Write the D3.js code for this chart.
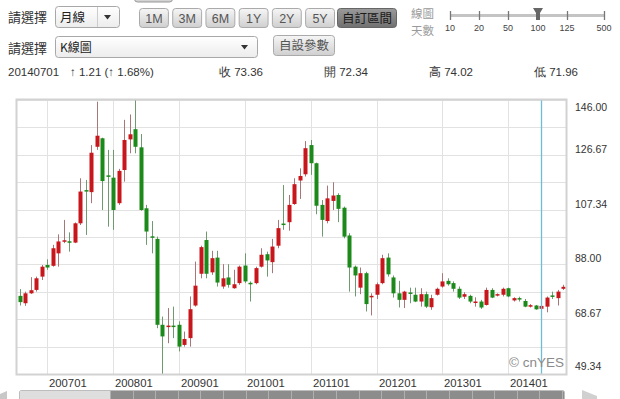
<!DOCTYPE html>
<html><head><meta charset="utf-8">
<script src="https://cdn.jsdelivr.net/npm/d3@7"></script>
<style>
html,body{margin:0;padding:0;background:#fff;overflow:hidden;}
svg{display:block;}
</style></head>
<body>
<svg id="c" width="620" height="399"></svg>
<script>
const months = ["200608","200609","200610","200611","200612",
"200701","200702","200703","200704","200705","200706","200707","200708","200709","200710","200711","200712",
"200801","200802","200803","200804","200805","200806","200807","200808","200809","200810","200811","200812",
"200901","200902","200903","200904","200905","200906","200907","200908","200909","200910","200911","200912",
"201001","201002","201003","201004","201005","201006","201007","201008","201009","201010","201011","201012",
"201101","201102","201103","201104","201105","201106","201107","201108","201109","201110","201111","201112",
"201201","201202","201203","201204","201205","201206","201207","201208","201209","201210","201211","201212",
"201301","201302","201303","201304","201305","201306","201307","201308","201309","201310","201311","201312",
"201401","201402","201403","201404","201405","201406","201407","201408","201409","201410","201411"];
const open  = [76.9,74.3,77.8,79.0,83.7,87.8,87.5,91.9,96.1,96.1,95.7,102.5,114.2,113.5,129.5,132.5,119.3,118.6,109.6,121.3,
132.1,135.7,129.3,107.8,97.8,97.0,66.7,65.9,66.4,66.7,59.6,62.0,73.5,84.7,96.6,85.2,90.4,80.2,83.4,79.6,
81.4,87.6,81.5,81.4,87.2,91.6,88.8,94.6,102.4,102.9,109.3,117.6,119.8,130.1,123.7,109.0,103.3,110.4,112.5,108.0,
98.2,87.2,79.8,84.9,76.4,77.3,81.4,90.4,83.4,77.8,75.5,78.1,77.3,74.9,77.5,72.9,77.3,80.2,82.2,81.4,
79.4,76.6,76.9,74.4,74.9,73.7,79.0,77.0,77.3,79.6,75.3,76.1,75.1,73.1,73.5,72.34,73.1,77.0,76.1,79.4];
const high  = [79.3,78.4,83.5,83.7,87.8,89.8,94.9,98.6,103.7,99.3,102.8,118.4,117.8,130.1,145.4,132.7,128.4,128.4,121.7,139.0,
140.9,146.0,134.0,109.0,103.3,97.8,69.6,72.6,73.1,67.9,64.3,76.7,89.0,94.6,99.6,92.8,92.8,88.1,88.1,86.1,
87.6,91.9,82.0,87.2,93.7,92.5,97.0,103.7,116.0,112.5,118.4,121.9,131.5,131.9,123.9,110.7,115.8,117.0,113.1,108.4,
99.0,87.6,86.9,85.4,77.8,81.6,91.4,91.9,84.1,82.2,78.7,79.8,79.8,79.6,78.4,77.3,79.8,84.9,83.1,82.0,
80.2,78.2,77.3,76.4,75.5,79.8,79.6,77.8,79.8,79.8,76.4,76.6,75.8,74.0,73.7,74.02,76.7,78.4,79.0,80.8];
const low   = [73.5,73.4,77.6,78.4,82.5,86.1,87.2,87.2,95.5,92.5,95.5,101.9,98.4,109.6,128.4,107.2,101.3,100.2,109.0,117.2,
127.2,127.2,106.9,94.9,91.9,65.5,49.34,60.2,62.0,57.3,59.0,59.0,73.1,83.1,83.1,84.3,80.2,79.4,79.8,79.4,
80.8,81.4,74.9,81.0,86.9,83.7,84.9,93.7,100.2,99.9,109.0,111.1,119.0,119.6,105.7,97.8,102.5,107.2,102.9,97.2,
78.4,76.7,77.5,71.4,70.0,75.8,81.0,83.7,76.3,72.8,72.6,74.3,74.7,73.1,72.6,72.0,77.0,79.8,80.5,78.4,
75.8,75.8,74.3,73.1,72.3,73.5,76.1,76.7,76.7,76.4,74.9,74.9,72.9,72.8,72.0,71.96,71.1,75.8,73.5,79.0];
const close = [74.7,77.8,78.9,83.1,87.2,86.9,93.7,96.1,96.4,95.7,102.5,113.7,113.7,127.4,133.4,117.4,119.0,107.2,121.0,131.9,
133.9,129.5,107.2,99.6,97.5,66.7,62.6,66.4,65.9,59.0,61.7,72.2,80.5,94.1,84.7,90.2,81.6,83.1,80.8,81.0,
87.2,82.0,81.0,86.7,91.4,89.4,94.3,100.8,101.9,109.0,116.3,119.2,129.0,123.7,108.7,103.7,111.3,112.3,107.6,97.8,
86.9,84.1,84.9,74.0,76.9,81.0,90.2,84.5,77.8,75.5,78.4,77.6,74.9,77.5,73.1,76.1,79.4,82.0,81.0,79.4,
76.3,77.5,74.9,74.9,72.8,79.0,76.3,77.5,79.4,76.7,76.1,75.6,73.1,73.6,72.15,73.36,76.3,76.6,78.4,80.1];
const yTicks = [146.00,126.67,107.34,88.00,68.67,49.34];
const xTickLabels = ["200701","200801","200901","201001","201101","201201","201301","201401"];
const hoverMonth = "201407";
const rangeButtons = ["1M","3M","6M","1Y","2Y","5Y"];
const dayLabels = ["10","20","50","100","125","500"];
const info = {date:"20140701", chg:"↑ 1.21 (↑ 1.68%)", c:"收 73.36", o:"開 72.34", h:"高 74.02", l:"低 71.96"};

const svg = d3.select("#c");
const CJK = "'Noto Sans CJK TC','Liberation Sans',sans-serif";
const LAT = "'Liberation Sans',Arial,sans-serif";

const defs = svg.append("defs");
function grad(id, a, b){
  const g = defs.append("linearGradient").attr("id",id).attr("x1",0).attr("y1",0).attr("x2",0).attr("y2",1);
  g.append("stop").attr("offset","0%").attr("stop-color",a);
  g.append("stop").attr("offset","100%").attr("stop-color",b);
}
grad("btn","#f6f6f6","#cfcfcf");
grad("btnDark","#9a9a9a","#707070");
grad("sel","#ffffff","#ececec");

// ---------- header ----------
const hdr = svg.append("g");
hdr.append("rect").attr("x",134.5).attr("y",-12).attr("width",38).attr("height",14).attr("rx",3)
  .attr("fill","url(#btn)").attr("stroke","#999");

function label(t,x,y,size,color,font,anchor){
  return hdr.append("text").attr("x",x).attr("y",y).attr("font-size",size).attr("fill",color||"#333")
    .attr("font-family",font||CJK).attr("text-anchor",anchor||"start").text(t);
}
label("請選擇",8,22,13,"#333");
hdr.append("rect").attr("x",55.5).attr("y",6.5).attr("width",64).attr("height",21).attr("rx",3)
  .attr("fill","url(#sel)").attr("stroke","#a8a8a8");
hdr.append("line").attr("x1",97.5).attr("x2",97.5).attr("y1",7).attr("y2",27).attr("stroke","#ccc");
label("月線",60,21.5,12.5,"#222");
hdr.append("path").attr("d","M104,15 L111,15 L107.5,19.5 Z").attr("fill","#333");

const bx = d3.scaleBand().domain(rangeButtons).range([139,334]).paddingInner(0.13);
rangeButtons.forEach(b=>{
  hdr.append("rect").attr("x",bx(b)+0.5).attr("y",8.5).attr("width",bx.bandwidth()).attr("height",19).attr("rx",3)
    .attr("fill","url(#btn)").attr("stroke","#aaa");
  label(b,bx(b)+bx.bandwidth()/2+0.5,22.5,12.5,"#555",LAT,"middle");
});
hdr.append("rect").attr("x",337.5).attr("y",8.5).attr("width",59).attr("height",19).attr("rx",3)
  .attr("fill","url(#btnDark)").attr("stroke","#666");
label("自訂區間",367,22.5,12.5,"#1a1a1a",CJK,"middle");

label("線圖",411,18,11.5,"#9a9a9a");
label("天數",411,35,11.5,"#9a9a9a");
const sxPos = [450,479,508,538,567,604];
hdr.append("line").attr("x1",450).attr("x2",604).attr("y1",15.5).attr("y2",15.5).attr("stroke","#c4c4c4").attr("stroke-width",3);
dayLabels.forEach((d,i)=>{
  hdr.append("line").attr("x1",sxPos[i]+0.5).attr("x2",sxPos[i]+0.5).attr("y1",11).attr("y2",20).attr("stroke","#777").attr("stroke-width",1.3);
  label(d,sxPos[i],31,9.5,"#444",LAT,"middle").attr("textLength",d.length*5).attr("lengthAdjust","spacingAndGlyphs");
});
hdr.append("path").attr("d","M533,8 L543,8 L540,13 L540,20 L536,20 L536,13 Z").attr("fill","#666");

label("請選擇",8,53,13,"#333");
hdr.append("rect").attr("x",55.5).attr("y",36.5).attr("width",202).attr("height",21).attr("rx",3)
  .attr("fill","url(#sel)").attr("stroke","#a8a8a8");
label("K線圖",60,51.5,12,"#222");
hdr.append("path").attr("d","M241,45 L248,45 L244.5,49.5 Z").attr("fill","#333");
hdr.append("rect").attr("x",273.5).attr("y",35.5).attr("width",61).attr("height",20).attr("rx",3)
  .attr("fill","url(#btn)").attr("stroke","#aaa");
label("自設參數",304,50,12.5,"#555",CJK,"middle");

label(info.date,8,76,11.5,"#333",LAT);
label(info.chg,70,76,11.5,"#333",LAT);
label(info.c,219,76,11.5,"#333",LAT);
label(info.o,324,76,11.5,"#333",LAT);
label(info.h,429,76,11.5,"#333",LAT);
label(info.l,534,76,11.5,"#333",LAT);

// ---------- chart ----------
const L=17, R=566, T=100, B=374;
const x = d3.scaleBand().domain(months).range([L,R]).padding(0);
const y = d3.scaleLinear().domain([d3.min(yTicks), d3.max(yTicks)]).range([B,T]);
const cx = m => x(m)+x.bandwidth()/2;

const chart = svg.append("g");
chart.append("rect").attr("x",L).attr("y",T).attr("width",R-L).attr("height",B-T).attr("fill","#fff");

const gridVals = [];
yTicks.forEach((t,i)=>{ gridVals.push(t); if(i<yTicks.length-1) gridVals.push((t+yTicks[i+1])/2); });
chart.selectAll(".hg").data(gridVals).join("line")
  .attr("x1",L).attr("x2",R).attr("y1",d=>Math.round(y(d))+0.5).attr("y2",d=>Math.round(y(d))+0.5)
  .attr("stroke","#e2e2e2");
chart.selectAll(".vg").data(xTickLabels).join("line")
  .attr("x1",d=>Math.round(cx(d))+0.5).attr("x2",d=>Math.round(cx(d))+0.5).attr("y1",T).attr("y2",B)
  .attr("stroke","#e2e2e2");

const data = months.map((m,i)=>({m,o:open[i],h:high[i],l:low[i],c:close[i]}));
const up = d=>d.c>=d.o;
chart.selectAll(".wick").data(data).join("line")
  .attr("x1",d=>Math.round(cx(d.m))+0.5).attr("x2",d=>Math.round(cx(d.m))+0.5)
  .attr("y1",d=>y(d.h)).attr("y2",d=>y(d.l))
  .attr("stroke",d=>up(d)?"#a87676":"#6f9a6f").attr("stroke-width",1);
const bw = 4;
chart.selectAll(".body").data(data).join("rect")
  .attr("x",d=>Math.round(cx(d.m))+0.5-bw/2).attr("width",bw)
  .attr("y",d=>{const t=y(Math.max(d.o,d.c)), b=y(Math.min(d.o,d.c)); return (b-t)<1.5 ? (t+b)/2-0.75 : t;})
  .attr("height",d=>Math.max(1.5, y(Math.min(d.o,d.c))-y(Math.max(d.o,d.c))))
  .attr("fill",d=>up(d)?"#c8161d":"#1b8a1b");

chart.append("line").attr("x1",Math.round(cx(hoverMonth))+0.5).attr("x2",Math.round(cx(hoverMonth))+0.5)
  .attr("y1",T).attr("y2",B).attr("stroke","#6fbcd8").attr("stroke-width",1.3);

chart.append("rect").attr("x",L-0.5).attr("y",T-0.5).attr("width",R-L+1).attr("height",B-T+1)
  .attr("fill","none").attr("stroke","#d2d2d2").attr("stroke-width",2);

chart.append("text").attr("x",564).attr("y",367).attr("text-anchor","end").attr("font-family",LAT)
  .attr("font-size",13.5).attr("fill","#8a8a8a").text("© cnYES");

chart.selectAll(".yl").data(yTicks).join("text")
  .attr("x",575).attr("y",d=>Math.min(370,Math.max(111,y(d)-2)))
  .attr("font-family",LAT).attr("font-size",10.5).attr("fill","#333").text(d=>d.toFixed(2));
chart.selectAll(".xl").data(xTickLabels).join("text")
  .attr("x",d=>Math.round(cx(d))+2).attr("y",387)
  .attr("font-family",LAT).attr("font-size",11.3).attr("fill","#333").text(d=>d);

// ---------- scroll bar ----------
const sb = svg.append("g");
sb.append("rect").attr("x",19.5).attr("y",390.5).attr("width",545).attr("height",12).attr("rx",2)
  .attr("fill","#8c8c8c").attr("stroke","#bdbdbd");
sb.append("rect").attr("x",20).attr("y",391).attr("width",90).attr("height",11).attr("fill","#dedede");
const segs = d3.range(110,563,22.6);
sb.selectAll(".sg").data(segs).join("line").attr("x1",d=>Math.round(d)+0.5).attr("x2",d=>Math.round(d)+0.5)
  .attr("y1",391).attr("y2",399).attr("stroke","#b0b0b0");
sb.append("path").attr("d","M0,399 L0,394 L7,391 L7,399 Z").attr("fill","#c8c8c8");
sb.append("path").attr("d","M582,390 L597,396 L597,399 L582,399 Z").attr("fill","#d0d0d0");
</script>
</body></html>
